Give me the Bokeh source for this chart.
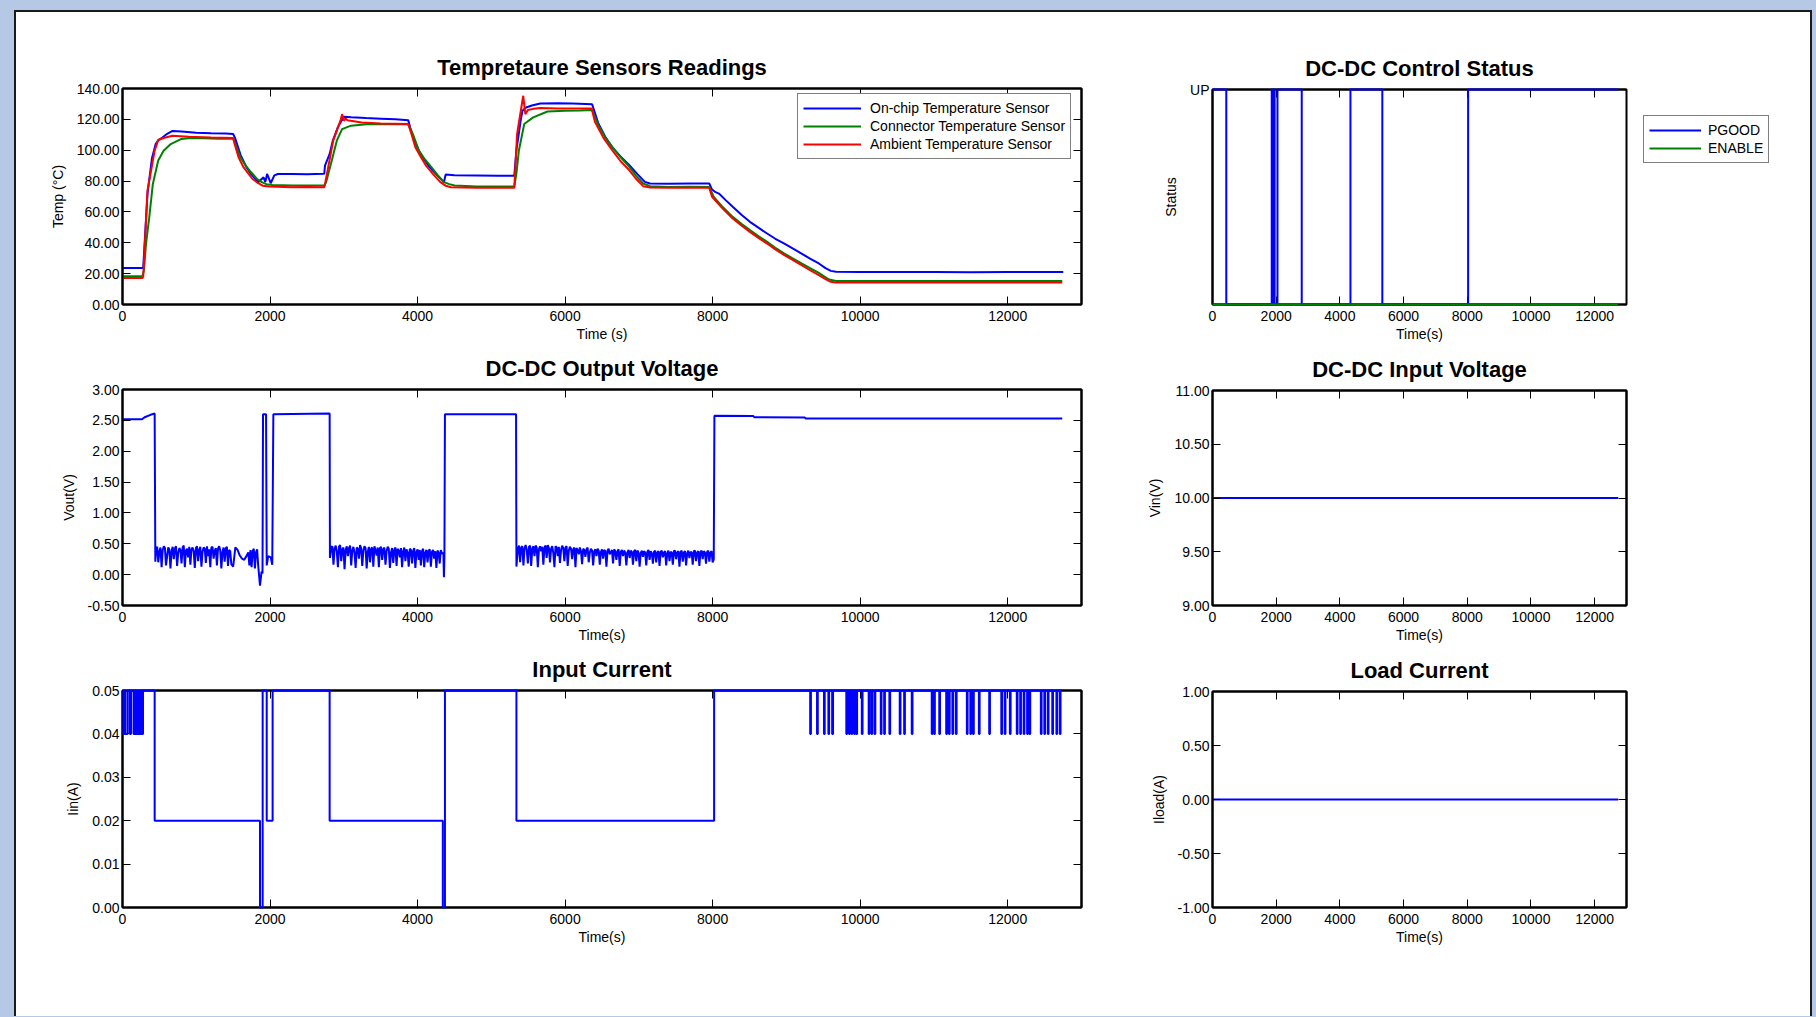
from bokeh.plotting import figure
from bokeh.models import Range1d, LinearAxis, FixedTicker, PrintfTickFormatter, Legend, LegendItem
from bokeh.layouts import row, column
from bokeh.embed import file_html
from bokeh.resources import INLINE

FONT = "Liberation Sans"
BLUE = "#0000ff"
GREEN = "#008000"
RED = "#ff0000"
PAGE_BG = "#b5c9e6"

# ------------------------------------------------------------------ data
X_TICKS = [0, 2000, 4000, 6000, 8000, 10000, 12000]
TEMP_TICKS = [0, 20, 40, 60, 80, 100, 120, 140]
VOUT_TICKS = [-0.5, 0.0, 0.5, 1.0, 1.5, 2.0, 2.5, 3.0]
IIN_TICKS = [0.0, 0.01, 0.02, 0.03, 0.04, 0.05]
STATUS_TICKS = [0, 1]
STATUS_LABELS = {0: "", 1: "UP"}
VIN_TICKS = [9.0, 9.5, 10.0, 10.5, 11.0]
ILOAD_TICKS = [-1.0, -0.5, 0.0, 0.5, 1.0]

# temperature sensors: (time s, temperature C)
TEMP_ONCHIP = [(0, 23.6), (270, 23.6), (281, 24), (339, 72), (400, 95), (450, 104), (484, 106.5),
               (530, 107.8), (600, 110.5), (678, 112.5), (800, 112.2), (1000, 111.3), (1200, 111.0),
               (1400, 110.8), (1500, 110.5), (1525, 108), (1600, 97), (1680, 89), (1745, 84.5),
               (1800, 81.5), (1840, 79.3), (1912, 82.5), (1936, 79.3), (1960, 84.6), (2009, 78.6),
               (2058, 83.7), (2106, 84.6), (2300, 84.6), (2500, 84.5), (2735, 84.7), (2745, 90),
               (2808, 97.6), (2850, 106), (2920, 115), (3001, 121.7), (3100, 121.3), (3300, 120.8),
               (3500, 120.4), (3700, 120.0), (3873, 119.5), (3910, 113), (3960, 106), (4018, 99.7),
               (4090, 94), (4163, 89), (4260, 84), (4357, 79.3), (4381, 84.2), (4500, 83.8),
               (4800, 83.6), (5100, 83.4), (5311, 83.5), (5340, 100), (5400, 120), (5422, 125.6),
               (5470, 127.7), (5550, 129), (5664, 130.3), (5900, 130.5), (6100, 130.2), (6366, 129.8),
               (6451, 117.3), (6540, 109), (6638, 102), (6750, 96), (6871, 90.3), (6980, 84.5),
               (7081, 79.5), (7151, 78.4), (7400, 78.3), (7700, 78.4), (7954, 78.4), (7992, 74.5),
               (8040, 72.8), (8085, 71.9), (8180, 67.5), (8272, 63.3), (8390, 58.2), (8505, 53.6),
               (8620, 49.8), (8738, 46.0), (8850, 42.6), (8972, 39.5), (9090, 36.2), (9205, 33.0),
               (9320, 29.8), (9439, 26.6), (9530, 23.6), (9602, 21.8), (9672, 21.2), (10000, 21.0),
               (10500, 21.0), (11000, 21.1), (11500, 20.9), (12000, 21.0), (12500, 21.0), (12753, 21.0)]
TEMP_CONNECTOR = [(0, 18.3), (270, 18.3), (290, 22), (320, 40), (363, 56.6), (411, 78), (484, 93.3),
                  (557, 99.7), (654, 104), (799, 107.3), (920, 107.9), (1100, 107.8), (1300, 107.5),
                  (1500, 107.5), (1530, 104), (1598, 95.4), (1670, 90), (1743, 85.7), (1820, 81.5),
                  (1888, 79.3), (1950, 78), (2033, 77.5), (2300, 77.1), (2500, 77.2), (2735, 77.1),
                  (2760, 79.3), (2830, 92), (2905, 106.2), (2977, 113.7), (3098, 115.9), (3340, 117),
                  (3600, 116.8), (3873, 116.8), (3940, 110), (4018, 99.7), (4100, 94), (4187, 89),
                  (4270, 84), (4357, 79.3), (4430, 78), (4502, 77.1), (4800, 76.5), (5100, 76.5),
                  (5311, 76.5), (5340, 85), (5373, 99.7), (5446, 117), (5567, 121.3), (5761, 125.1),
                  (6000, 125.6), (6200, 125.8), (6366, 126), (6451, 116.2), (6540, 108.5), (6638, 102.2),
                  (6750, 95.5), (6871, 89.2), (6960, 83.5), (7058, 78.4), (7151, 76.7), (7400, 76.2),
                  (7700, 76.3), (7954, 76.2), (8015, 69.8), (8140, 63), (8272, 56.8), (8390, 52.3),
                  (8505, 48.2), (8620, 44.3), (8738, 40.6), (8850, 36.8), (8972, 33), (9090, 29.8),
                  (9205, 26.6), (9320, 23.5), (9439, 20.5), (9510, 18.2), (9579, 16.2), (9672, 15.3),
                  (10000, 15.3), (11000, 15.3), (12000, 15.3), (12739, 15.3)]
TEMP_AMBIENT = [(0, 17.2), (270, 17.2), (281, 18), (339, 73.9), (436, 99.7), (484, 106.6), (557, 107.9),
                (678, 109.4), (900, 108.8), (1200, 108.2), (1500, 107.9), (1520, 104), (1573, 95.4),
                (1640, 89), (1694, 85.7), (1760, 81.5), (1840, 78.6), (1900, 77), (1985, 76.5),
                (2300, 76), (2500, 76.1), (2735, 76), (2745, 78), (2856, 106.2), (2960, 120),
                (2977, 123.4), (3001, 119.1), (3025, 120.5), (3050, 119.4), (3243, 118), (3500, 117.3),
                (3873, 117), (3920, 110), (3970, 101.9), (4040, 96), (4115, 90), (4210, 84.5),
                (4309, 79.3), (4380, 77), (4454, 76), (4800, 75.6), (5100, 75.6), (5311, 75.7),
                (5349, 110.5), (5432, 135.3), (5461, 123.4), (5495, 126), (5570, 126.8), (5664, 127.3),
                (5900, 127.1), (6150, 127.1), (6360, 127), (6404, 118.4), (6520, 108), (6638, 100),
                (6750, 93), (6871, 87), (6960, 81.5), (7058, 76.7), (7150, 75.8), (7400, 75.6),
                (7700, 75.6), (7954, 75.6), (7992, 69.8), (8130, 62.5), (8272, 55.7), (8390, 51.2),
                (8505, 47.1), (8620, 43.2), (8738, 39.5), (8850, 35.7), (8972, 32), (9090, 28.7),
                (9205, 25.5), (9320, 22.2), (9439, 19), (9530, 16.5), (9602, 14.7), (9672, 14.3),
                (10000, 14.3), (11000, 14.2), (12000, 14.3), (12739, 14.3)]

# DC-DC output voltage: fixed segments (time s, V) and sampled noisy stretches
VOUT_SAMPLE_STEP = 15
VOUT_START = [(0, 2.517), (265, 2.517), (300, 2.55), (380, 2.59), (436, 2.61), (445, 0.21)]
VOUT_NOISE1_T0 = 455
VOUT_NOISE1 = [0.42, 0.45, 0.20, 0.38, 0.44, 0.12, 0.40, 0.46, 0.43, 0.15,
               0.30, 0.44, 0.41, 0.10, 0.38, 0.45, 0.25, 0.42, 0.46, 0.14,
               0.35, 0.43, 0.40, 0.18, 0.44, 0.47, 0.12, 0.39, 0.42, 0.28,
               0.45, 0.16, 0.41, 0.44, 0.38, 0.11, 0.43, 0.46, 0.22, 0.40,
               0.45, 0.13, 0.37, 0.44, 0.42, 0.19, 0.46, 0.30, 0.41, 0.12,
               0.44, 0.45, 0.26, 0.39, 0.43, 0.15, 0.42, 0.46, 0.40, 0.10,
               0.36, 0.44, 0.21, 0.43, 0.45, 0.14, 0.40, 0.38, 0.17]
VOUT_MID1 = [(1500, 0.13), (1530, 0.44), (1560, 0.40), (1590, 0.31), (1620, 0.26), (1650, 0.24),
             (1680, 0.30), (1705, 0.36)]
VOUT_NOISE1B_T0 = 1720
VOUT_NOISE1B = [0.15, 0.40, 0.12, 0.38, 0.42, 0.10, 0.36, 0.41, 0.14]
VOUT_MID2 = [(1864, -0.18), (1885, 0.05), (1898, 0.02), (1905, 2.60), (1946, 2.60), (1955, 0.15),
             (1975, 0.30), (2010, 0.28), (2030, 0.16), (2045, 2.60), (2808, 2.61), (2812, 0.27)]
VOUT_NOISE2_T0 = 2830
VOUT_NOISE2 = [0.44, 0.46, 0.16, 0.42, 0.47, 0.38, 0.12, 0.45, 0.48, 0.22,
               0.41, 0.44, 0.09, 0.40, 0.46, 0.30, 0.43, 0.47, 0.15, 0.39,
               0.45, 0.35, 0.11, 0.44, 0.42, 0.26, 0.48, 0.43, 0.14, 0.39,
               0.46, 0.43, 0.10, 0.37, 0.45, 0.20, 0.42, 0.44, 0.13, 0.46,
               0.40, 0.31, 0.44, 0.12, 0.43, 0.45, 0.24, 0.41, 0.44, 0.16,
               0.38, 0.45, 0.42, 0.11, 0.36, 0.43, 0.19, 0.40, 0.44, 0.14,
               0.42, 0.39, 0.28, 0.43, 0.12, 0.38, 0.44, 0.22, 0.41, 0.36,
               0.13, 0.42, 0.40, 0.18, 0.39, 0.43, 0.11, 0.37, 0.41, 0.24,
               0.40, 0.15, 0.38, 0.42, 0.12, 0.36, 0.40, 0.20, 0.39, 0.41,
               0.13, 0.37, 0.40, 0.26, 0.38, 0.11, 0.39, 0.36, 0.18, 0.40,
               0.34]
VOUT_MID3 = [(4350, 0.35), (4357, -0.04), (4364, 0.30), (4371, 2.60), (5335, 2.60), (5340, 0.13)]
VOUT_NOISE3_T0 = 5360
VOUT_NOISE3 = [0.42, 0.47, 0.20, 0.44, 0.46, 0.15, 0.43, 0.48, 0.40, 0.18,
               0.45, 0.47, 0.14, 0.42, 0.46, 0.30, 0.47, 0.44, 0.12, 0.41,
               0.46, 0.38, 0.45, 0.16, 0.44, 0.47, 0.27, 0.48, 0.43, 0.20,
               0.42, 0.46, 0.35, 0.12, 0.46, 0.44, 0.30, 0.45, 0.19, 0.40,
               0.47, 0.43, 0.22, 0.44, 0.46, 0.14, 0.39, 0.45, 0.42, 0.25,
               0.41, 0.44, 0.12, 0.43, 0.40, 0.33, 0.44, 0.38, 0.17, 0.42,
               0.40, 0.29, 0.41, 0.44, 0.20, 0.36, 0.42, 0.39, 0.15, 0.38,
               0.41, 0.30, 0.42, 0.39, 0.16, 0.37, 0.41, 0.26, 0.40, 0.38,
               0.13, 0.39, 0.42, 0.33, 0.36, 0.40, 0.18, 0.41, 0.38, 0.24,
               0.38, 0.41, 0.14, 0.37, 0.40, 0.30, 0.39, 0.36, 0.15, 0.36,
               0.40, 0.27, 0.39, 0.37, 0.16, 0.38, 0.40, 0.22, 0.39, 0.36,
               0.13, 0.35, 0.39, 0.29, 0.38, 0.36, 0.15, 0.37, 0.40, 0.24,
               0.38, 0.35, 0.18, 0.37, 0.39, 0.20, 0.36, 0.38, 0.14, 0.37,
               0.39, 0.28, 0.36, 0.38, 0.15, 0.35, 0.39, 0.22, 0.37, 0.36,
               0.16, 0.38, 0.39, 0.25, 0.36, 0.38, 0.13, 0.37, 0.39, 0.21,
               0.36, 0.38, 0.15, 0.35, 0.39, 0.27, 0.37, 0.36, 0.16, 0.38,
               0.39, 0.22, 0.36, 0.38, 0.14, 0.37, 0.39, 0.25, 0.38, 0.36,
               0.18, 0.37, 0.39, 0.21, 0.36, 0.38, 0.20]
VOUT_END = [(8015, 0.25), (8024, 2.576), (8552, 2.57), (8565, 2.552), (9250, 2.545), (9262, 2.53),
            (12739, 2.53)]

# input current: level changes (time s, A) and short dips to 0.04 A (down, up)
IIN_STEPS = [(0, 0.05), (12, 0.04), (25, 0.05), (38, 0.04), (70, 0.05), (100, 0.04), (115, 0.05),
             (150, 0.04), (175, 0.05), (185, 0.04), (200, 0.05), (210, 0.04), (220, 0.05), (232, 0.04),
             (245, 0.05), (255, 0.04), (265, 0.05), (272, 0.04), (278, 0.05), (436, 0.02), (1864, 0.0),
             (1900, 0.05), (1955, 0.02), (2035, 0.05), (2808, 0.02), (4342, 0.0), (4371, 0.05),
             (5340, 0.02), (8020, 0.05)]
IIN_DIP_LEVEL = 0.04
IIN_HIGH_LEVEL = 0.05
IIN_DIPS = [(9322, 9332), (9415, 9425), (9509, 9519), (9569, 9579), (9620, 9632), (9812, 9822),
            (9849, 9859), (9882, 9892), (9919, 9929), (9948, 9958), (10022, 10032), (10115, 10125),
            (10153, 10163), (10195, 10205), (10279, 10289), (10325, 10335), (10396, 10406),
            (10536, 10546), (10596, 10606), (10699, 10709), (10970, 10980), (11002, 11012),
            (11072, 11082), (11166, 11176), (11203, 11213), (11250, 11260), (11297, 11307),
            (11446, 11456), (11493, 11503), (11530, 11540), (11609, 11619), (11749, 11759),
            (11913, 11923), (11959, 11969), (12029, 12039), (12123, 12133), (12169, 12179),
            (12216, 12226), (12263, 12273), (12295, 12305), (12449, 12459), (12496, 12506),
            (12543, 12553), (12604, 12614), (12660, 12670), (12706, 12716)]
IIN_END_T = 12729

# DC-DC control status (1 = UP)
PGOOD_STEPS = [(0, 1), (433, 0), (1860, 1), (1880, 0), (1905, 1), (1950, 0), (2040, 1), (2802, 0),
               (4332, 1), (5333, 0), (8027, 1), (12738, 1)]
ENABLE_STEPS = [(0, 0), (12738, 0)]

VIN = [(0, 10.0), (12740, 10.0)]
ILOAD = [(0, 0.0), (12740, 0.0)]


# ------------------------------------------------------------------ helpers
def split(pairs):
    return [a for a, _ in pairs], [b for _, b in pairs]


def sampled(t0, values):
    return [(t0 + i * VOUT_SAMPLE_STEP, v) for i, v in enumerate(values)]


def style_axis(ax, labels=True, label_standoff=3, axis_label_standoff=8):
    ax.axis_line_color = "black"
    ax.axis_line_width = 2
    ax.major_tick_in = 8
    ax.major_tick_out = 0
    ax.major_tick_line_color = "black"
    ax.major_tick_line_width = 1
    ax.minor_tick_line_color = None
    ax.major_label_text_font = FONT
    ax.major_label_text_font_size = "14px"
    ax.major_label_text_color = "black" if labels else None
    ax.major_label_standoff = label_standoff if labels else 0
    ax.axis_label_text_font = FONT
    ax.axis_label_text_font_size = "14px"
    ax.axis_label_text_font_style = "normal"
    ax.axis_label_text_color = "black"
    ax.axis_label_standoff = axis_label_standoff


def make_fig(w, h, yr, yticks, title, xlabel, ylabel, borders, overrides=None, right_ticks=True):
    l, r, t, b = borders
    p = figure(width=w, height=h, x_range=Range1d(0, 13000), y_range=Range1d(*yr),
               output_backend="svg", toolbar_location=None,
               min_border_left=l, min_border_right=r, min_border_top=t, min_border_bottom=b,
               background_fill_color="white", border_fill_color="white")
    p.title.text = title
    p.title.align = "center"
    p.title.text_font = FONT
    p.title.text_font_size = "22px"
    p.title.text_font_style = "bold"
    p.title.text_color = "black"
    p.title.standoff = 18
    p.grid.visible = False
    p.outline_line_color = "black"
    p.outline_line_width = 2

    xa = p.xaxis[0]
    ya = p.yaxis[0]
    xa.ticker = FixedTicker(ticks=X_TICKS, minor_ticks=[])
    ya.ticker = FixedTicker(ticks=yticks, minor_ticks=[])
    ya.formatter = PrintfTickFormatter(format="%.2f")
    if overrides:
        ya.major_label_overrides = overrides
    xa.axis_label = xlabel
    ya.axis_label = ylabel
    style_axis(xa, True, 6, 2)
    style_axis(ya, True, 3, 8)

    top = LinearAxis(ticker=FixedTicker(ticks=X_TICKS, minor_ticks=[]))
    style_axis(top, False)
    p.add_layout(top, "above")
    if right_ticks:
        right = LinearAxis(ticker=FixedTicker(ticks=yticks, minor_ticks=[]))
        style_axis(right, False)
        p.add_layout(right, "right")
    return p


def style_legend(leg, glyph_w, row_h, pad, standoff):
    leg.label_text_font = FONT
    leg.label_text_font_size = "14px"
    leg.label_text_color = "black"
    leg.glyph_width = glyph_w
    leg.glyph_height = row_h
    leg.label_height = row_h
    leg.label_standoff = standoff
    leg.spacing = 0
    leg.padding = pad
    leg.margin = 0
    leg.border_line_color = "black"
    leg.border_line_width = 1.5
    leg.background_fill_color = "white"
    leg.background_fill_alpha = 1.0


LW = 2

# ------------------------------------------------------------------ temperature
temp = make_fig(1124, 332, (0, 140), TEMP_TICKS, "Tempretaure Sensors Readings", "Time (s)",
                "Temp (°C)", (106, 59, 76, 40))
tx, ty = split(TEMP_ONCHIP)
r1 = temp.line(tx, ty, line_color=BLUE, line_width=LW)
tx, ty = split(TEMP_CONNECTOR)
r2 = temp.line(tx, ty, line_color=GREEN, line_width=LW)
tx, ty = split(TEMP_AMBIENT)
r3 = temp.line(tx, ty, line_color=RED, line_width=LW)
leg = Legend(items=[LegendItem(label="On-chip Temperature Sensor", renderers=[r1]),
                    LegendItem(label="Connector Temperature Sensor", renderers=[r2]),
                    LegendItem(label="Ambient Temperature Sensor", renderers=[r3])],
             location=(675, 145))
style_legend(leg, 58, 18, 5, 9)
temp.add_layout(leg)

# ------------------------------------------------------------------ output voltage
vout = make_fig(1124, 301, (-0.5, 3.0), VOUT_TICKS, "DC-DC Output Voltage", "Time(s)", "Vout(V)",
                (106, 59, 44, 40))
vout_pts = (VOUT_START + sampled(VOUT_NOISE1_T0, VOUT_NOISE1) + VOUT_MID1
            + sampled(VOUT_NOISE1B_T0, VOUT_NOISE1B) + VOUT_MID2
            + sampled(VOUT_NOISE2_T0, VOUT_NOISE2) + VOUT_MID3
            + sampled(VOUT_NOISE3_T0, VOUT_NOISE3) + VOUT_END)
vx, vy = split(vout_pts)
vout.line(vx, vy, line_color=BLUE, line_width=LW)

# ------------------------------------------------------------------ input current
iin = make_fig(1124, 371, (0, 0.05), IIN_TICKS, "Input Current", "Time(s)", "Iin(A)",
               (106, 59, 45, 109))
iin_pts = list(IIN_STEPS)
for d, u in IIN_DIPS:
    iin_pts += [(d, IIN_DIP_LEVEL), (u, IIN_HIGH_LEVEL)]
iin_pts.append((IIN_END_T, IIN_HIGH_LEVEL))
ix, iy = split(iin_pts)
iin.step(ix, iy, mode="after", line_color=BLUE, line_width=LW, level="overlay")

# ------------------------------------------------------------------ control status
status = make_fig(490, 332, (0, 1), STATUS_TICKS, "DC-DC Control Status", "Time(s)", "Status",
                  (72, 4, 77, 40), overrides=STATUS_LABELS, right_ticks=False)
sx, sy = split(PGOOD_STEPS)
status.step(sx, sy, mode="after", line_color=BLUE, line_width=LW, level="overlay")
sx, sy = split(ENABLE_STEPS)
status.line(sx, sy, line_color=GREEN, line_width=LW, level="overlay")

# legend of the status plot, drawn beside it (single-point keys draw no line of their own)
status_key = figure(width=180, height=332, x_range=Range1d(0, 1), y_range=Range1d(0, 1),
                    x_axis_location=None, y_axis_location=None, output_backend="svg",
                    toolbar_location=None, min_border=0, outline_line_color=None,
                    background_fill_color="white", border_fill_color="white")
status_key.grid.visible = False
k1 = status_key.line([0], [0], line_color=BLUE, line_width=LW)
k2 = status_key.line([0], [0], line_color=GREEN, line_width=LW)
leg2 = Legend(items=[LegendItem(label="PGOOD", renderers=[k1]),
                     LegendItem(label="ENABLE", renderers=[k2])],
              location=(13, 141))
style_legend(leg2, 52, 18, 5, 7)
status_key.add_layout(leg2)

# ------------------------------------------------------------------ input voltage
vin = make_fig(670, 301, (9.0, 11.0), VIN_TICKS, "DC-DC Input Voltage", "Time(s)", "Vin(V)",
               (72, 184, 46, 40))
ax_, ay_ = split(VIN)
vin.line(ax_, ay_, line_color=BLUE, line_width=LW)

# ------------------------------------------------------------------ load current
load = make_fig(670, 371, (-1.0, 1.0), ILOAD_TICKS, "Load Current", "Time(s)", "Iload(A)",
                (72, 184, 46, 109))
ax_, ay_ = split(ILOAD)
load.line(ax_, ay_, line_color=BLUE, line_width=LW)

# ------------------------------------------------------------------ page
left = column(temp, vout, iin)
right = column(row(status, status_key), vin, load)
page = row(left, right, margin=(10, 0, 0, 14),
           styles={"background-color": "white",
                   "border-top": "2px solid #1a1a1a",
                   "border-left": "2px solid #1a1a1a",
                   "border-right": "2px solid #1a1a1a"})

html = file_html(page, INLINE)
# colour the page behind the panel: patch the real <body> tag (the last one in the file)
idx = html.rfind("<body")
if idx >= 0:
    end = html.index(">", idx)
    html = html[:end] + ' style="background-color: %s;"' % PAGE_BG + html[end:]
open("out.html", "w").write(html)
